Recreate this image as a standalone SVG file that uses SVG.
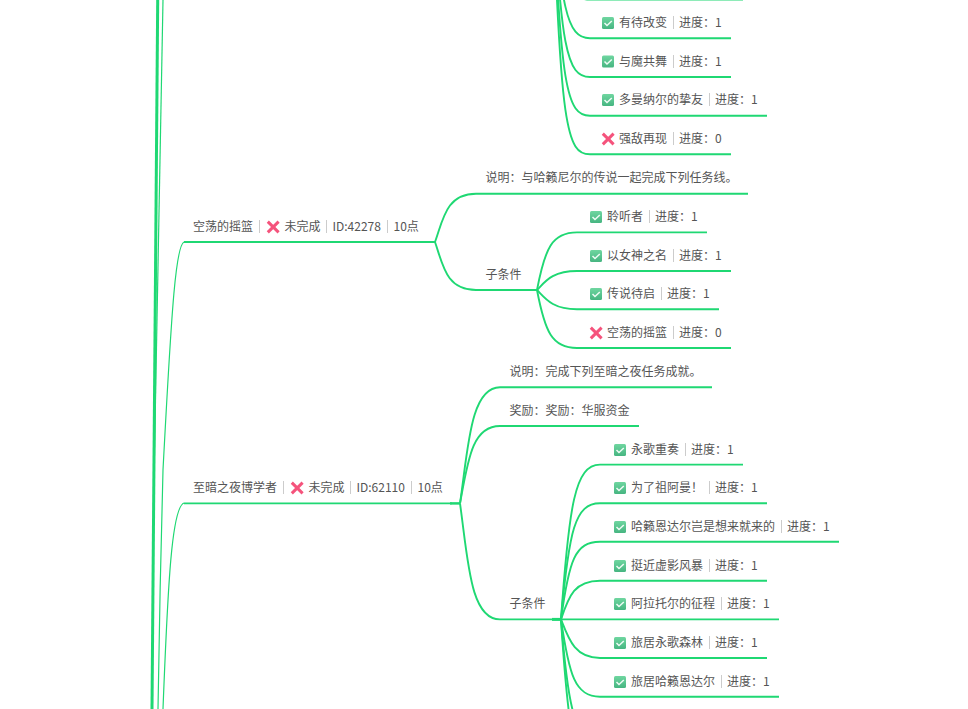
<svg xmlns="http://www.w3.org/2000/svg" width="968" height="709" viewBox="0 0 968 709">
<style>
text{font-family:"Noto Sans CJK SC","Noto Sans",sans-serif;font-size:12px;fill:#555}
.c{fill:none;stroke:#1fd873;stroke-width:1.9}
.t{stroke-width:1.2}
.k{stroke-width:3}
.s{stroke:#ccc;stroke-width:1}
</style>
<defs>
<linearGradient id="gr" x1="0" y1="0" x2="0" y2="1"><stop offset="0" stop-color="#6fd6a0"/><stop offset="1" stop-color="#46b581"/></linearGradient>
<g id="ok"><rect x="0" y="0" width="12" height="12" rx="1.5" fill="url(#gr)"/><path d="M2.5 6 L5 8.500 L9.800 4" fill="none" stroke="#eefbf4" stroke-width="1.500"/></g>
<g id="no"><path d="M0.800 0.600 L11.600 11.400 M11.600 0.600 L0.800 11.400" fill="none" stroke="#f5537c" stroke-width="3"/></g>
</defs>
<rect width="968" height="709" fill="#fff"/>
<g id="connectors">
<path class="c k" d="M157.700 0 L152 709"/>
<path class="c t" d="M163 0 C161 120 158 300 154 480"/>
<path class="c t" d="M184 242 C176 246 172 300 163 470 C161 540 159 640 158 709"/>
<path class="c t" d="M184 503 C172 507 168 580 163 709"/>
<path class="c" d="M184 242 H435"/>
<path class="c" d="M184 503.400 H452"/>
<path class="c" d="M450 503.400 H460" style="stroke-width:2.500"/>
<path class="c" d="M435 242 C443 220 446 193.700 476 193.700 H748"/>
<path class="c" d="M435 242 C443 265 446 290 476 290 H537"/>
<path class="c" d="M537 290 C545 248 552 232.400 577 232.400 H707"/>
<path class="c" d="M537 290 C545 282 552 271 577 271 H731"/>
<path class="c" d="M537 290 C545 298 552 309.300 577 309.300 H719"/>
<path class="c" d="M537 290 C545 332 552 348 577 348 H731"/>
<path class="c" d="M460 503.400 C468 450 470 387.300 500 387.300 H712"/>
<path class="c" d="M460 503.400 C468 460 472 426 500 426 H639"/>
<path class="c" d="M460 503.400 C468 560 470 619.400 500 619.400 H779"/>
<path class="c" d="M552 619.400 H562" style="stroke-width:3"/>
<path class="c" d="M561 619.400 C569 505 575 464.600 600 464.600 H743"/>
<path class="c" d="M561 619.400 C569 530 575 503.300 600 503.300 H767"/>
<path class="c" d="M561 619.400 C569 560 575 541.800 600 541.800 H839"/>
<path class="c" d="M561 619.400 C569 595 575 580.700 600 580.700 H767"/>
<path class="c" d="M561 619.400 C569 640 575 658 600 658 H767"/>
<path class="c" d="M561 619.400 C569 675 575 696.800 600 696.800 H779"/>
<path class="c" d="M561 619.400 C569 720 575 735.400 600 735.400 H767"/>
<path class="c" d="M561 619.400 C569 745 575 774 600 774 H767"/>
<path class="c" d="M552 -130 C560 -20 567 -0.400 590 -0.400 H743"/>
<path class="c" d="M552 -130 C560 10 567 38.300 590 38.300 H731"/>
<path class="c" d="M552 -130 C560 50 567 77 590 77 H731"/>
<path class="c" d="M552 -130 C560 90 567 115.700 590 115.700 H767"/>
<path class="c" d="M552 -130 C560 130 567 154.300 590 154.300 H731"/>
</g>
<g id="n-youdai"><use href="#ok" x="602" y="17"/><text x="619" y="27">有待改变</text><path class="s" d="M673.500 16 V29"/><text x="679" y="27">进度：1</text></g>
<g id="n-yumo"><use href="#ok" x="602" y="55.500"/><text x="619" y="66">与魔共舞</text><path class="s" d="M673.500 55 V68"/><text x="679" y="66">进度：1</text></g>
<g id="n-duoman"><use href="#ok" x="602" y="94"/><text x="619" y="104">多曼纳尔的挚友</text><path class="s" d="M709.500 93 V106"/><text x="715" y="104">进度：1</text></g>
<g id="n-qiangdi"><use href="#no" x="602" y="133"/><text x="619" y="143">强敌再现</text><path class="s" d="M673.500 132 V145"/><text x="679" y="143">进度：0</text></g>
<g id="n-kongdang"><text x="193" y="231">空荡的摇篮</text><path class="s" d="M259.500 220 V233"/><use href="#no" x="267" y="221"/><text x="284.500" y="231">未完成</text><path class="s" d="M326.500 220 V233"/><text x="332.500" y="231">ID:42278</text><path class="s" d="M387.500 220 V233"/><text x="393.500" y="231">10点</text></g>
<g id="n-kd-desc"><text x="485.500" y="182">说明：与哈籁尼尔的传说一起完成下列任务线。</text></g>
<g id="n-kd-sub"><text x="485.500" y="279">子条件</text></g>
<g id="n-lingting"><use href="#ok" x="590" y="211"/><text x="607" y="221">聆听者</text><path class="s" d="M649.500 210 V223"/><text x="655" y="221">进度：1</text></g>
<g id="n-nvshen"><use href="#ok" x="590" y="250"/><text x="607" y="260">以女神之名</text><path class="s" d="M673.500 249 V262"/><text x="679" y="260">进度：1</text></g>
<g id="n-chuanshuo"><use href="#ok" x="590" y="288"/><text x="607" y="298">传说待启</text><path class="s" d="M661.500 287 V300"/><text x="667" y="298">进度：1</text></g>
<g id="n-kd2"><use href="#no" x="590" y="327"/><text x="607" y="337">空荡的摇篮</text><path class="s" d="M673.500 326 V339"/><text x="679" y="337">进度：0</text></g>
<g id="n-zhian"><text x="193" y="492">至暗之夜博学者</text><path class="s" d="M283.500 481 V494"/><use href="#no" x="291" y="482"/><text x="308.500" y="492">未完成</text><path class="s" d="M350.500 481 V494"/><text x="356.500" y="492">ID:62110</text><path class="s" d="M411.500 481 V494"/><text x="417.500" y="492">10点</text></g>
<g id="n-za-desc"><text x="509.500" y="376">说明：完成下列至暗之夜任务成就。</text></g>
<g id="n-za-reward"><text x="509.500" y="415">奖励：奖励：华服资金</text></g>
<g id="n-za-sub"><text x="509.500" y="608">子条件</text></g>
<g id="n-yongge"><use href="#ok" x="614" y="444"/><text x="631" y="454">永歌重奏</text><path class="s" d="M685.500 443 V456"/><text x="691" y="454">进度：1</text></g>
<g id="n-zuaman"><use href="#ok" x="614" y="482"/><text x="631" y="492">为了祖阿曼！</text><path class="s" d="M709.500 481 V494"/><text x="715" y="492">进度：1</text></g>
<g id="n-halai"><use href="#ok" x="614" y="521"/><text x="631" y="531">哈籁恩达尔岂是想来就来的</text><path class="s" d="M781.500 520 V533"/><text x="787" y="531">进度：1</text></g>
<g id="n-tingjin"><use href="#ok" x="614" y="560"/><text x="631" y="570">挺近虚影风暴</text><path class="s" d="M709.500 559 V572"/><text x="715" y="570">进度：1</text></g>
<g id="n-alatuo"><use href="#ok" x="614" y="598"/><text x="631" y="608">阿拉托尔的征程</text><path class="s" d="M721.500 597 V610"/><text x="727" y="608">进度：1</text></g>
<g id="n-lvju1"><use href="#ok" x="614" y="637"/><text x="631" y="647">旅居永歌森林</text><path class="s" d="M709.500 636 V649"/><text x="715" y="647">进度：1</text></g>
<g id="n-lvju2"><use href="#ok" x="614" y="676"/><text x="631" y="686">旅居哈籁恩达尔</text><path class="s" d="M721.500 675 V688"/><text x="727" y="686">进度：1</text></g>
</svg>
